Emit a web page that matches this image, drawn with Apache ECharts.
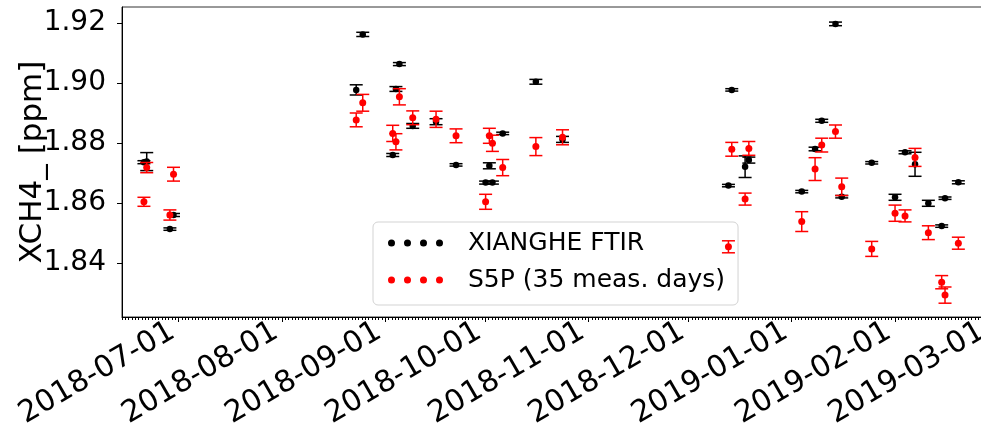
<!DOCTYPE html>
<html><head><meta charset="utf-8">
<script src="https://cdn.jsdelivr.net/npm/echarts@6/dist/echarts.min.js"></script>
<style>html,body{margin:0;padding:0;background:#fff}#c{width:981px;height:438px}</style>
</head><body><div id="c"></div>
<script>
// measurement days (UTC, "YYYY-MM-DD HH")
const measDays = ['2018-06-20 14','2018-06-21 10','2018-06-28 09','2018-06-29 11','2018-08-23 07','2018-08-25 06','2018-09-03 06','2018-09-04 05','2018-09-05 06','2018-09-09 06','2018-09-16 06','2018-09-22 06','2018-10-01 03','2018-10-02 06','2018-10-03 04','2018-10-06 06','2018-10-16 05','2018-10-24 05','2018-12-13 00','2018-12-14 00','2018-12-18 00','2018-12-19 03','2019-01-04 00','2019-01-08 00','2019-01-10 00','2019-01-14 03','2019-01-16 00','2019-01-25 00','2019-02-01 00','2019-02-04 00','2019-02-07 00','2019-02-11 00','2019-02-15 00','2019-02-16 00','2019-02-20 00'];
const ftirValues = [1.8736,1.8738,1.8513,1.8560,1.8977,1.9162,1.8760,1.8980,1.9063,1.8857,1.8871,1.8727,1.8668,1.8724,1.8668,1.8832,1.9004,1.8812,1.8658,1.8977,1.8721,1.8743,1.8638,1.8780,1.8874,1.9197,1.8621,1.8734,1.8619,1.8769,1.8729,1.8599,1.8523,1.8616,1.8669];
const ftirErrors = [0.0005,0.0030,0.0004,0.0005,0.0017,0.0007,0.0005,0.0008,0.0005,0.0008,0.0010,0.0004,0.0005,0.0010,0.0005,0.0004,0.0008,0.0010,0.0004,0.0004,0.0036,0.0010,0.0004,0.0006,0.0005,0.0006,0.0004,0.0004,0.0010,0.0005,0.0040,0.0010,0.0004,0.0004,0.0005];
const s5pValues = [1.8604,1.8718,1.8560,1.8696,1.8877,1.8934,1.8832,1.8804,1.8954,1.8884,1.8879,1.8824,1.8604,1.8824,1.8799,1.8718,1.8788,1.8819,1.8454,1.8779,1.8613,1.8782,1.8538,1.8713,1.8793,1.8838,1.8654,1.8447,1.8566,1.8557,1.8752,1.8501,1.8336,1.8293,1.8466];
const s5pErrors = [0.0015,0.0017,0.0017,0.0023,0.0023,0.0028,0.0027,0.0027,0.0027,0.0023,0.0027,0.0023,0.0025,0.0025,0.0027,0.0027,0.0030,0.0025,0.0020,0.0023,0.0020,0.0023,0.0033,0.0038,0.0023,0.0022,0.0029,0.0025,0.0027,0.0020,0.0030,0.0023,0.0022,0.0027,0.0020];
const monthTicks = ['2018-07-01','2018-08-01','2018-09-01','2018-10-01','2018-11-01','2018-12-01','2019-01-01','2019-02-01','2019-03-01'];
const yTicks = [1.84,1.86,1.88,1.90,1.92];
const legendNames = ['XIANGHE FTIR','S5P (35 meas. days)'];

const toTs = s => Date.parse(s.replace(' ', 'T') + ':00:00Z');
const dayTs = s => Date.parse(s + 'T00:00:00Z');
const xMin = dayTs('2018-06-14'), xMax = dayTs('2019-03-03');
const DAY = 86400000;

const ftirData = measDays.map((d, i) => [toTs(d), ftirValues[i], ftirErrors[i]]);
const s5pData = measDays.map((d, i) => [toTs(d), s5pValues[i], s5pErrors[i]]);

function errRender(color) {
  return function (params, api) {
    const x = api.value(0), y = api.value(1), e = api.value(2);
    const t = api.coord([x, y + e]), b = api.coord([x, y - e]);
    const hw = 6.5, st = { stroke: color, lineWidth: 1.5 };
    return { type: 'group', children: [
      { type: 'line', shape: { x1: t[0], y1: t[1], x2: b[0], y2: b[1] }, style: st },
      { type: 'line', shape: { x1: t[0] - hw, y1: t[1], x2: t[0] + hw, y2: t[1] }, style: st },
      { type: 'line', shape: { x1: b[0] - hw, y1: b[1], x2: b[0] + hw, y2: b[1] }, style: st }
    ]};
  };
}

const nDots = 4, dotR = 3.5, dotS = 16;
let iconPath = 'path://';
for (let k = 0; k < nDots; k++) {
  const cx = dotR + k * dotS;
  iconPath += `M${cx - dotR},${dotR}a${dotR},${dotR} 0 1,0 ${2 * dotR},0a${dotR},${dotR} 0 1,0 ${-2 * dotR},0Z`;
}
const iconW = 2 * dotR + (nDots - 1) * dotS;

const FONT = 'DejaVu Sans';
const chart = echarts.init(document.getElementById('c'), null, { renderer: 'canvas' });
chart.setOption({
  animation: false,
  backgroundColor: '#fff',
  grid: { left: 122, right: -14, top: 7, bottom: 121, containLabel: false, outerBoundsMode: 'none',
    show: true, borderColor: '#333', borderWidth: 1, backgroundColor: 'transparent' },
  legend: {
    data: legendNames, orient: 'vertical', left: 373, top: 222,
    padding: [6, 13, 10, 15], itemGap: 7,
    itemWidth: iconW, itemHeight: 2 * dotR, icon: iconPath,
    backgroundColor: 'rgba(255,255,255,0.8)', borderColor: '#d3d3d3', borderWidth: 1, borderRadius: 5,
    textStyle: { fontFamily: FONT, fontSize: 25, color: '#000', lineHeight: 30, padding: [0, 0, 0, 20] }
  },
  xAxis: [{
    type: 'value', min: xMin, max: xMax, scale: true,
    axisLine: { show: true, lineStyle: { color: '#000', width: 1 } },
    axisTick: { show: true, length: 5, lineStyle: { color: '#000', width: 1 }, customValues: monthTicks.map(dayTs) },
    axisLabel: { show: true, rotate: 30, margin: 9, padding: [0, 7, 0, 0], fontFamily: FONT, fontSize: 30, color: '#000',
      customValues: monthTicks.map(dayTs), formatter: v => new Date(v).toISOString().slice(0, 10) },
    splitLine: { show: false }
  }, {
    type: 'value', min: xMin, max: xMax, interval: DAY, position: 'bottom',
    axisLine: { show: false },
    axisTick: { show: true, length: 3, lineStyle: { color: '#000', width: 1 } },
    axisLabel: { show: false }, splitLine: { show: false }
  }],
  yAxis: {
    type: 'value', min: 1.822, max: 1.92533,
    name: 'XCH4_ [ppm]', nameLocation: 'middle', nameRotate: 90, nameGap: 74, nameMoveOverlap: false,
    nameTextStyle: { fontFamily: FONT, fontSize: 31, color: '#000' },
    axisLine: { show: true, lineStyle: { color: '#000', width: 1 } },
    axisTick: { show: true, length: 5, lineStyle: { color: '#000', width: 1 }, customValues: yTicks },
    axisLabel: { fontFamily: FONT, fontSize: 28, color: '#000', margin: 16, customValues: yTicks, formatter: v => v.toFixed(2) },
    splitLine: { show: false }
  },
  series: [
    { name: 'ftir-err', type: 'custom', xAxisIndex: 0, data: ftirData, encode: { x: 0, y: 1 }, renderItem: errRender('#000'), z: 2 },
    { name: legendNames[0], type: 'scatter', xAxisIndex: 0, data: ftirData, symbolSize: 6.5, itemStyle: { color: '#000', opacity: 1 }, z: 3 },
    { name: 's5p-err', type: 'custom', xAxisIndex: 0, data: s5pData, encode: { x: 0, y: 1 }, renderItem: errRender('#ff0000'), z: 4 },
    { name: legendNames[1], type: 'scatter', xAxisIndex: 0, data: s5pData, symbolSize: 7, itemStyle: { color: '#ff0000', opacity: 1 }, z: 5 }
  ]
});
</script></body></html>
